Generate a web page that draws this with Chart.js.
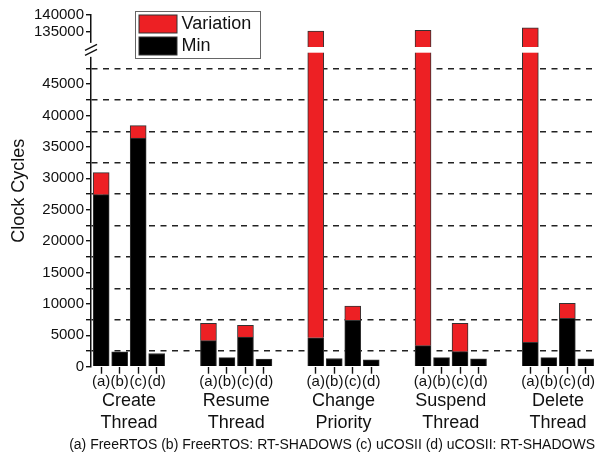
<!DOCTYPE html>
<html>
<head>
<meta charset="utf-8">
<script src="https://cdn.jsdelivr.net/npm/chart.js@4.4.1/dist/chart.umd.min.js"></script>
<style>
  html, body { margin: 0; padding: 0; background: #fff; }
  canvas { display: block; }
</style>
</head>
<body>
<canvas id="rtosChart" width="596" height="452"></canvas>
<script>
const operations = [['Create', 'Thread'], ['Resume', 'Thread'], ['Change', 'Priority'], ['Suspend', 'Thread'], ['Delete', 'Thread']];
const systems = ['(a)', '(b)', '(c)', '(d)'];
const caption = '(a) FreeRTOS (b) FreeRTOS: RT-SHADOWS (c) uCOSII (d) uCOSII: RT-SHADOWS';

// clock cycles, one row per operation, columns (a) (b) (c) (d)
const minCycles = [
    [27400, 2350, 36400, 2100],
    [4150, 1450, 4700, 1200],
    [4600, 1300, 7400, 1100],
    [3350, 1450, 2400, 1250],
    [3900, 1450, 7700, 1250]
];
const variationCycles = [
    [3500, 0, 2000, 0],
    [2750, 0, 1900, 0],
    [130700, 0, 2250, 0],
    [132150, 0, 4500, 0],
    [132350, 0, 2400, 0]
];
const yTickValues = [0, 2500, 5000, 7500, 10000, 12500, 15000, 17500, 20000, 22500, 25000,
    27500, 30000, 32500, 35000, 37500, 40000, 42500, 45000, 47500, 135000, 140000];

/* ---- broken y axis: 0..LOW_MAX below, HIGH_MIN..max on top ---- */
const LOW_MAX = 50000;
const HIGH_MIN = 130600;
const UPPER_FRAC = 32 / 351.7;
const GAP_FRAC = 5.7 / 351.7;

class BrokenScale extends Chart.LinearScale {
    getPixelForValue(value) {
        const h = this.bottom - this.top;
        const upH = h * UPPER_FRAC;
        const gapH = h * GAP_FRAC;
        const lowH = h - upH - gapH;
        if (value <= LOW_MAX) return this.bottom - value / LOW_MAX * lowH;
        if (value >= HIGH_MIN) return this.top + (this.max - value) / (this.max - HIGH_MIN) * upH;
        return this.bottom - lowH - (value - LOW_MAX) / (HIGH_MIN - LOW_MAX) * gapH;
    }
    getValueForPixel(pixel) {
        const h = this.bottom - this.top;
        const upH = h * UPPER_FRAC;
        const gapH = h * GAP_FRAC;
        const lowH = h - upH - gapH;
        if (pixel >= this.bottom - lowH) return (this.bottom - pixel) / lowH * LOW_MAX;
        if (pixel <= this.top + upH) return this.max - (pixel - this.top) / upH * (this.max - HIGH_MIN);
        return LOW_MAX + (this.bottom - lowH - pixel) / gapH * (HIGH_MIN - LOW_MAX);
    }
}
BrokenScale.id = 'broken';
BrokenScale.defaults = Chart.LinearScale.defaults;
Chart.register(BrokenScale);

const GROUP_PITCH = 5.8;
const barPos = [];
const groupCenters = [];
operations.forEach((op, g) => {
    systems.forEach((s, m) => barPos.push(g * GROUP_PITCH + m));
    groupCenters.push(g * GROUP_PITCH + 1.5);
});
const toPoints = rows => rows.flat().map((v, i) => ({ x: barPos[i], y: v }));

Chart.defaults.font.family = '"Liberation Sans", Arial, sans-serif';
Chart.defaults.color = '#111';

const breakPlugin = {
    id: 'breakPlugin',
    afterDatasetsDraw(chart) {
        const { ctx, chartArea, scales: { y } } = chart;
        const top = y.getPixelForValue(HIGH_MIN);
        const bot = y.getPixelForValue(LOW_MAX);
        ctx.save();
        ctx.fillStyle = '#fff';
        ctx.fillRect(chartArea.left + 1, top, chartArea.right - chartArea.left, bot - top);
        ctx.restore();
    },
    afterDraw(chart) {
        const { ctx, chartArea, scales: { y } } = chart;
        const x = chartArea.left;
        const mid = (y.getPixelForValue(HIGH_MIN) + y.getPixelForValue(LOW_MAX)) / 2;
        ctx.save();
        ctx.fillStyle = '#fff';
        ctx.fillRect(x - 3, mid - 7, 6, 14);
        ctx.strokeStyle = '#111';
        ctx.lineWidth = 1.4;
        [-2.5, 2.5].forEach(d => {
            ctx.beginPath();
            ctx.moveTo(x - 6, mid + d + 3);
            ctx.lineTo(x + 6, mid + d - 3);
            ctx.stroke();
        });
        ctx.restore();
    }
};

const legendPlugin = {
    id: 'boxLegend',
    afterDraw(chart) {
        const ctx = chart.ctx;
        const items = chart.data.datasets.slice().reverse();
        const left = 135.5, top = 11.5, w = 125, h = 47;
        ctx.save();
        ctx.fillStyle = '#fff';
        ctx.fillRect(left, top, w, h);
        ctx.strokeStyle = '#666';
        ctx.lineWidth = 1;
        ctx.strokeRect(left, top, w, h);
        ctx.font = '18px "Liberation Sans", Arial, sans-serif';
        ctx.textBaseline = 'middle';
        items.forEach((ds, i) => {
            const by = top + 3.5 + i * 22;
            ctx.fillStyle = ds.backgroundColor;
            ctx.fillRect(left + 3.5, by, 38, 18);
            ctx.strokeStyle = '#333';
            ctx.strokeRect(left + 3.5, by, 38, 18);
            ctx.fillStyle = '#111';
            ctx.fillText(ds.label, left + 46, by + 9.5);
        });
        ctx.restore();
    }
};

new Chart(document.getElementById('rtosChart'), {
    type: 'bar',
    data: {
        datasets: [{
            label: 'Min',
            data: toPoints(minCycles),
            backgroundColor: '#000000',
            borderColor: '#333333',
            borderWidth: 1,
            barThickness: 16
        }, {
            label: 'Variation',
            data: toPoints(variationCycles),
            backgroundColor: '#ed2024',
            borderColor: '#333333',
            borderWidth: 1,
            barThickness: 16
        }]
    },
    options: {
        responsive: false,
        animation: false,
        layout: { padding: { top: 15, right: 1, bottom: 0, left: 0 } },
        plugins: {
            legend: { display: false },
            tooltip: { enabled: false },
            title: {
                display: true,
                position: 'bottom',
                align: 'end',
                text: caption,
                color: '#111',
                font: { size: 14, weight: 'normal', lineHeight: 1 },
                padding: { top: 0, bottom: 0 }
            }
        },
        scales: {
            x: {
                type: 'linear',
                stacked: true,
                offset: false,
                min: -0.55,
                max: 26.67,
                weight: 0,
                afterBuildTicks: scale => { scale.ticks = barPos.map(v => ({ value: v })); },
                afterFit: scale => { scale.height = 23; },
                ticks: {
                    autoSkip: false,
                    maxRotation: 0,
                    padding: 1,
                    font: { size: 15, lineHeight: 1 },
                    color: '#111',
                    callback: (v, i) => systems[i % systems.length]
                },
                grid: { offset: false, drawOnChartArea: false, drawTicks: true, tickLength: 7, tickColor: '#111', tickWidth: 1.4 },
                border: { display: false }
            },
            x2: {
                type: 'linear',
                position: 'bottom',
                offset: false,
                min: -0.55,
                max: 26.67,
                weight: 1,
                afterBuildTicks: scale => { scale.ticks = groupCenters.map(v => ({ value: v })); },
                afterFit: scale => { scale.height = 48.3; },
                ticks: {
                    autoSkip: false,
                    maxRotation: 0,
                    padding: 0,
                    font: { size: 18, lineHeight: 1.25 },
                    color: '#111',
                    callback: (v, i) => operations[i]
                },
                grid: { display: false, drawTicks: false, offset: false },
                border: { display: false }
            },
            y: {
                type: 'broken',
                stacked: true,
                min: 0,
                max: 140000,
                afterBuildTicks: scale => { scale.ticks = yTickValues.map(v => ({ value: v })); },
                afterFit: scale => { scale.width = 91; },
                ticks: {
                    autoSkip: false,
                    padding: 2,
                    font: { size: 15 },
                    color: '#111',
                    callback: v => (v % 5000 === 0 ? String(v) : '')
                },
                grid: {
                    color: ctx => (ctx.tick && ctx.tick.value % 5000 !== 0 ? '#222' : 'rgba(0,0,0,0)'),
                    lineWidth: 1.4,
                    tickColor: '#111',
                    tickLength: 5,
                    tickWidth: 1.4
                },
                border: { color: '#111', width: 1.5, dash: [6, 5.5] },
                title: {
                    display: true,
                    text: 'Clock Cycles',
                    font: { size: 18 },
                    color: '#111',
                    padding: { top: 8, bottom: 0 }
                }
            }
        }
    },
    plugins: [breakPlugin, legendPlugin]
});
</script>
</body>
</html>
